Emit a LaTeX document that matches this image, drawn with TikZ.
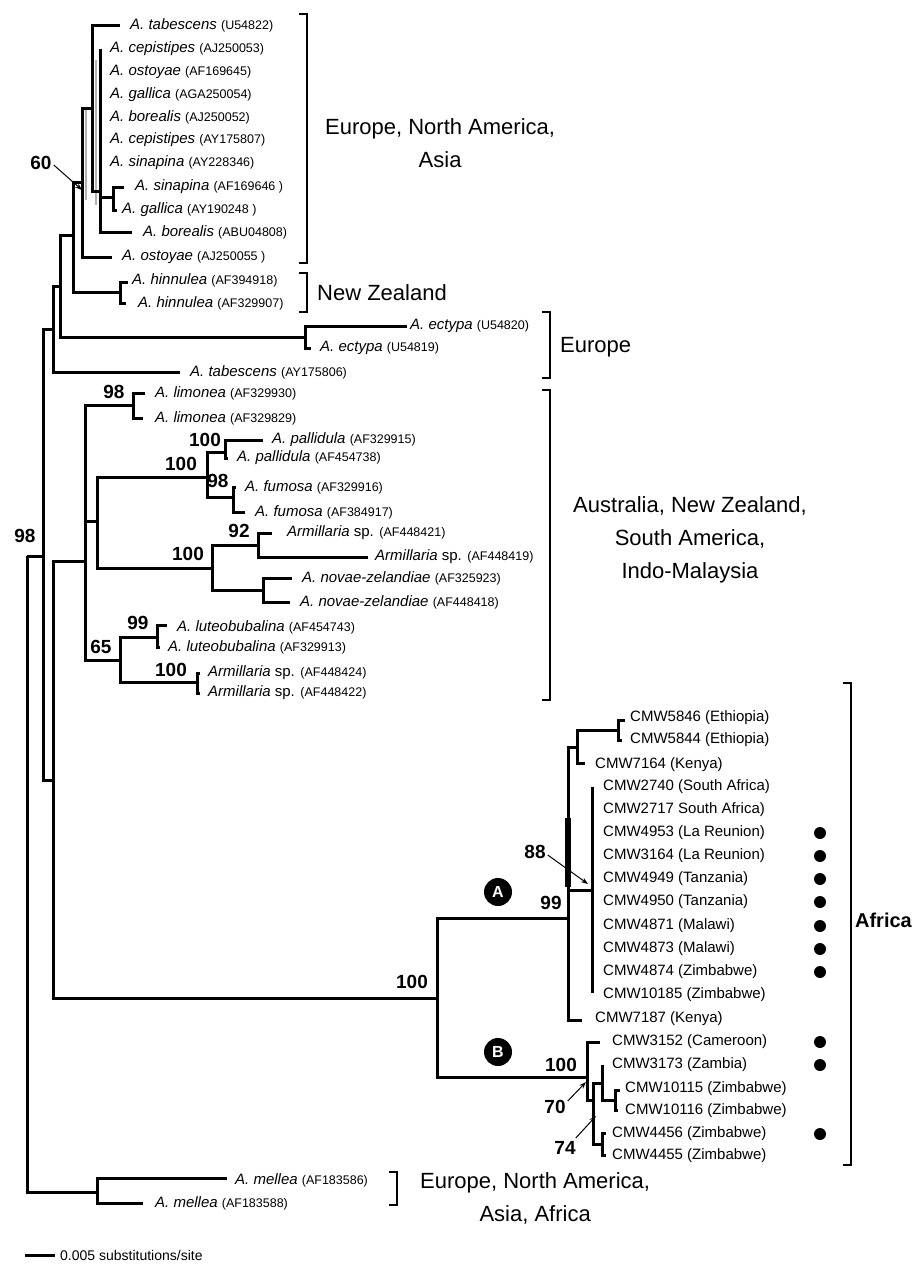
\documentclass[tikz,border=0pt]{standalone}
\usepackage{fontspec}
\setmainfont{Liberation Sans}
\usetikzlibrary{arrows.meta}
\newcommand\acc[1]{{\fontsize{12.5}{13}\selectfont(#1)}}
\begin{document}
\begin{tikzpicture}[x=1pt,y=-1pt,
  br/.style={line width=3pt, line join=miter},
  lab/.style={anchor=west, inner sep=0pt, font=\fontsize{15}{16}\selectfont},
  cmw/.style={anchor=west, inner sep=0pt, font=\fontsize{15}{16}\selectfont},
  bs/.style={inner sep=0pt, font=\fontsize{19}{20}\selectfont\bfseries},
  reg/.style={inner sep=0pt, font=\fontsize{22}{33}\selectfont, align=center},
  brk/.style={line width=2pt},
  dotm/.style={circle, fill=black, minimum size=12pt, inner sep=0pt},
  clade/.style={circle, fill=black, minimum size=28pt, inner sep=0pt, text=white, font=\fontsize{16}{16}\selectfont\bfseries},
  lead/.style={line width=1pt, -{Stealth[length=7pt,width=5pt]}}]
\useasboundingbox (0,0) rectangle (914,1269);
\fill[white] (0,0) rectangle (914,1269);
% ---------- coordinates: internal nodes ----------
\coordinate (root) at (27,556);
\coordinate (n43) at (43,556);
\coordinate (n53a) at (53,329);
\coordinate (n53b) at (53,780);
\coordinate (n60) at (60,286);
\coordinate (n73) at (73,235);
\coordinate (n82) at (82,182);
\coordinate (n92) at (92,108);
\coordinate (n100) at (100,191);
\coordinate (n113) at (113,197);
\coordinate (nhin) at (120,292);
\coordinate (nect) at (305,337);
\coordinate (nmel) at (97,1192);
\coordinate (nau) at (85,561);
\coordinate (nlim) at (133,405);
\coordinate (n97) at (97,521);
\coordinate (n207) at (207,477);
\coordinate (npal) at (225,452);
\coordinate (nfum) at (233,497);
\coordinate (n212) at (212,568);
\coordinate (n258) at (258,545);
\coordinate (nnov) at (263,590);
\coordinate (n65) at (120,660);
\coordinate (nlut) at (157,637);
\coordinate (narm) at (197,682);
\coordinate (naf) at (437,998);
\coordinate (nA) at (568,918);
\coordinate (n577) at (577,747);
\coordinate (n618) at (618,730);
\coordinate (n592) at (592,890);
\coordinate (nB) at (587,1077);
\coordinate (n593) at (593,1100);
\coordinate (n602a) at (602,1083);
\coordinate (n602b) at (602,1144);
\coordinate (n615) at (615,1100);
% ---------- coordinates: leaf ends ----------
\coordinate (e1) at (120,25);
\coordinate (e2) at (100,49);
\coordinate (e8) at (124,187);
\coordinate (e9) at (117,210);
\coordinate (e10) at (132,232);
\coordinate (e11) at (112,257);
\coordinate (e12) at (128,282);
\coordinate (e13) at (126,303);
\coordinate (e14) at (407,326);
\coordinate (e15) at (311,348);
\coordinate (e16) at (180,372);
\coordinate (e17) at (145,393);
\coordinate (e18) at (143,418);
\coordinate (e19) at (263,440);
\coordinate (e20) at (228,458);
\coordinate (e21) at (236,487);
\coordinate (e22) at (245,512);
\coordinate (e23) at (272,533);
\coordinate (e24) at (368,557);
\coordinate (e25) at (292,578);
\coordinate (e26) at (290,602);
\coordinate (e27) at (167,625);
\coordinate (e28) at (160,647);
\coordinate (e29) at (200,673);
\coordinate (e30) at (200,693);
\coordinate (e31) at (227,1178);
\coordinate (e32) at (143,1203);
\coordinate (c5846) at (625,720);
\coordinate (c5844) at (622,740);
\coordinate (c7164) at (585,763);
\coordinate (ctop) at (592,787);
\coordinate (cbot) at (592,993);
\coordinate (c7187) at (582,1020);
\coordinate (c3152) at (600,1042);
\coordinate (c3173) at (602,1065);
\coordinate (c10115) at (620,1090);
\coordinate (c10116) at (618,1110);
\coordinate (c4456) at (606,1133);
\coordinate (c4455) at (606,1155);
% ---------- faint grey lines near node 60 ----------
\draw[gray!60, line width=1.2pt] (86,110) -- (86,200);
\draw[gray!60, line width=1.2pt] (96,60) -- (96,205);
% ---------- branches ----------
\draw[br] (root) |- (n43);
\draw[br] (root) |- (nmel);
\draw[br] (n43) |- (n53a);
\draw[br] (n43) |- (n53b);
\draw[br] (n53a) |- (n60);
\draw[br] (n53a) |- (e16);
\draw[br] (n60) |- (n73);
\draw[br] (n60) |- (nect);
\draw[br] (n73) |- (n82);
\draw[br] (n73) |- (nhin);
\draw[br] (n82) |- (n92);
\draw[br] (n82) |- (e11);
\draw[br] (n92) |- (e1);
\draw[br] (n92) |- (n100);
\draw[br] (n100) |- (e2);
\draw[br] (n100) |- (e10);
\draw[br] (n100) |- (n113);
\draw[br] (n113) |- (e8);
\draw[br] (n113) |- (e9);
\draw[br] (nhin) |- (e12);
\draw[br] (nhin) |- (e13);
\draw[br] (nect) |- (e14);
\draw[br] (nect) |- (e15);
\draw[br] (nmel) |- (e31);
\draw[br] (nmel) |- (e32);
\draw[br] (n53b) |- (nau);
\draw[br] (n53b) |- (naf);
\draw[br] (nau) |- (nlim);
\draw[br] (nau) |- (n97);
\draw[br] (nau) |- (n65);
\draw[br] (nlim) |- (e17);
\draw[br] (nlim) |- (e18);
\draw[br] (n97) |- (n207);
\draw[br] (n97) |- (n212);
\draw[br] (n207) |- (npal);
\draw[br] (n207) |- (nfum);
\draw[br] (npal) |- (e19);
\draw[br] (npal) |- (e20);
\draw[br] (nfum) |- (e21);
\draw[br] (nfum) |- (e22);
\draw[br] (n212) |- (n258);
\draw[br] (n212) |- (nnov);
\draw[br] (n258) |- (e23);
\draw[br] (n258) |- (e24);
\draw[br] (nnov) |- (e25);
\draw[br] (nnov) |- (e26);
\draw[br] (n65) |- (nlut);
\draw[br] (n65) |- (narm);
\draw[br] (nlut) |- (e27);
\draw[br] (nlut) |- (e28);
\draw[br] (narm) |- (e29);
\draw[br] (narm) |- (e30);
\draw[br] (naf) |- (nA);
\draw[br] (naf) |- (nB);
\draw[br] (nA) |- (n577);
\draw[br] (nA) |- (n592);
\draw[br] (nA) |- (c7187);
\draw[line width=5.5pt] (568,818) -- (568,887);
\draw[br] (n577) |- (n618);
\draw[br] (n577) |- (c7164);
\draw[br] (n618) |- (c5846);
\draw[br] (n618) |- (c5844);
\draw[br] (n592) |- (ctop);
\draw[br] (n592) |- (cbot);
\draw[br] (nB) |- (c3152);
\draw[br] (nB) |- (n593);
\draw[br] (n593) |- (n602a);
\draw[br] (n593) |- (n602b);
\draw[br] (n602a) |- (c3173);
\draw[br] (n602a) |- (n615);
\draw[br] (n615) |- (c10115);
\draw[br] (n615) |- (c10116);
\draw[br] (n602b) |- (c4456);
\draw[br] (n602b) |- (c4455);
% ---------- taxon labels ----------
\node[lab] (t1) at (130,25) {\itshape A. tabescens \upshape\acc{U54822}};
\node[lab] (t2) at (110,49) {\itshape A. cepistipes \upshape\acc{AJ250053}};
\node[lab] (t3) at (110,72) {\itshape A. ostoyae \upshape\acc{AF169645}};
\node[lab] (t4) at (110,95) {\itshape A. gallica \upshape\acc{AGA250054}};
\node[lab] (t5) at (110,117) {\itshape A. borealis \upshape\acc{AJ250052}};
\node[lab] (t6) at (110,140) {\itshape A. cepistipes \upshape\acc{AY175807}};
\node[lab] (t7) at (110,163) {\itshape A. sinapina \upshape\acc{AY228346}};
\node[lab] (t8) at (135,187) {\itshape A. sinapina \upshape\acc{AF169646 }};
\node[lab] (t9) at (122,210) {\itshape A. gallica \upshape\acc{AY190248 }};
\node[lab] (t10) at (143,232) {\itshape A. borealis \upshape\acc{ABU04808}};
\node[lab] (t11) at (122,257) {\itshape A. ostoyae \upshape\acc{AJ250055 }};
\node[lab] (t12) at (132,280) {\itshape A. hinnulea \upshape\acc{AF394918}};
\node[lab] (t13) at (138,303) {\itshape A. hinnulea \upshape\acc{AF329907}};
\node[lab] (t14) at (410,326) {\itshape A. ectypa \upshape\acc{U54820}};
\node[lab] (t15) at (320,348) {\itshape A. ectypa \upshape\acc{U54819}};
\node[lab] (t16) at (190,372) {\itshape A. tabescens \upshape\acc{AY175806}};
\node[lab] (t17) at (155,393) {\itshape A. limonea \upshape\acc{AF329930}};
\node[lab] (t18) at (155,418) {\itshape A. limonea \upshape\acc{AF329829}};
\node[lab] (t19) at (272,440) {\itshape A. pallidula \upshape\acc{AF329915}};
\node[lab] (t20) at (237,458) {\itshape A. pallidula \upshape\acc{AF454738}};
\node[lab] (t21) at (245,487) {\itshape A. fumosa \upshape\acc{AF329916}};
\node[lab] (t22) at (255,512) {\itshape A. fumosa \upshape\acc{AF384917}};
\node[lab] (t23) at (287,533) {\itshape Armillaria\upshape\ sp. \acc{AF448421}};
\node[lab] (t24) at (375,557) {\itshape Armillaria\upshape\ sp. \acc{AF448419}};
\node[lab] (t25) at (302,578) {\itshape A. novae-zelandiae \upshape\acc{AF325923}};
\node[lab] (t26) at (300,602) {\itshape A. novae-zelandiae \upshape\acc{AF448418}};
\node[lab] (t27) at (177,627) {\itshape A. luteobubalina \upshape\acc{AF454743}};
\node[lab] (t28) at (168,647) {\itshape A. luteobubalina \upshape\acc{AF329913}};
\node[lab] (t29) at (208,673) {\itshape Armillaria\upshape\ sp. \acc{AF448424}};
\node[lab] (t30) at (208,693) {\itshape Armillaria\upshape\ sp. \acc{AF448422}};
\node[lab] (t31) at (235,1180) {\itshape A. mellea \upshape\acc{AF183586}};
\node[lab] (t32) at (155,1203) {\itshape A. mellea \upshape\acc{AF183588}};
% ---------- CMW labels ----------
\node[cmw] (a1) at (630,718) {CMW5846 (Ethiopia)};
\node[cmw] (a2) at (630,740) {CMW5844 (Ethiopia)};
\node[cmw] (a3) at (595,765) {CMW7164 (Kenya)};
\node[cmw] (a4) at (603,787) {CMW2740 (South Africa)};
\node[cmw] (a5) at (603,810) {CMW2717 South Africa)};
\node[cmw] (a6) at (603,833) {CMW4953 (La Reunion)};
\node[cmw] (a7) at (603,856) {CMW3164 (La Reunion)};
\node[cmw] (a8) at (603,879) {CMW4949 (Tanzania)};
\node[cmw] (a9) at (603,902) {CMW4950 (Tanzania)};
\node[cmw] (a10) at (603,926) {CMW4871 (Malawi)};
\node[cmw] (a11) at (603,949) {CMW4873 (Malawi)};
\node[cmw] (a12) at (603,972) {CMW4874 (Zimbabwe)};
\node[cmw] (a13) at (603,995) {CMW10185 (Zimbabwe)};
\node[cmw] (a14) at (595,1019) {CMW7187 (Kenya)};
\node[cmw] (a15) at (612,1042) {CMW3152 (Cameroon)};
\node[cmw] (a16) at (612,1065) {CMW3173 (Zambia)};
\node[cmw] (a17) at (625,1089) {CMW10115 (Zimbabwe)};
\node[cmw] (a18) at (625,1111) {CMW10116 (Zimbabwe)};
\node[cmw] (a19) at (612,1134) {CMW4456 (Zimbabwe)};
\node[cmw] (a20) at (612,1156) {CMW4455 (Zimbabwe)};
% ---------- dots ----------
\foreach \yy/\nm in {833/d1,856/d2,879/d3,902/d4,926/d5,949/d6,972/d7,1042/d8,1065/d9,1134/d10}
  \node[dotm] (\nm) at (820,\yy) {};
% ---------- clade markers ----------
\node[clade] (cA) at (498,892) {A};
\node[clade] (cB) at (498,1052) {B};
% ---------- bootstrap values ----------
\node[bs] (b60) at (41,163) {60};
\node[bs] (broot) at (25,536) {98};
\node[bs] (blim) at (114,392) {98};
\node[bs] (bpal) at (205,440) {100};
\node[bs] (bpf) at (181,464) {100};
\node[bs] (bfum) at (218,481) {98};
\node[bs] (b92) at (239,531) {92};
\node[bs] (ban) at (188,554) {100};
\node[bs] (blut) at (138,623) {99};
\node[bs] (b65) at (101,647) {65};
\node[bs] (barm) at (171,670) {100};
\node[bs] (baf) at (412,982) {100};
\node[bs] (bA) at (551,903) {99};
\node[bs] (b88) at (535,852) {88};
\node[bs] (bB) at (561,1065) {100};
\node[bs] (b70) at (555,1107) {70};
\node[bs] (b74) at (565,1148) {74};
\coordinate (p60) at (82,190);
\coordinate (p88) at (588,884);
\coordinate (p70) at (586,1082);
\coordinate (p74) at (596,1116);
\draw[lead] (b60.east) ++(2,2) -- (p60);
\draw[lead] (b88.east) ++(2,3) -- (p88);
\draw[lead] (b70.east) ++(2,-6) -- (p70);
\draw[lead] (b74.east) ++(0,-10) -- (p74);
% ---------- brackets ----------
\draw[brk] (299,14) -- (307,14) -- (307,263) -- (299,263);
\draw[brk] (299,273) -- (307,273) -- (307,312) -- (299,312);
\draw[brk] (542,312) -- (550,312) -- (550,378) -- (542,378);
\draw[brk] (542,390) -- (550,390) -- (550,700) -- (542,700);
\draw[brk] (843,683) -- (851,683) -- (851,1165) -- (843,1165);
\draw[brk] (389,1172) -- (397,1172) -- (397,1205) -- (389,1205);
% ---------- region labels ----------
\node[reg, anchor=north west] (r1) at (325,118) {Europe, North America,\\Asia};
\node[reg, anchor=west] (r2) at (317,293) {New Zealand};
\node[reg, anchor=west] (r3) at (560,347) {Europe};
\node[reg] (r4) at (690,540) {Australia, New Zealand,\\South America,\\Indo-Malaysia};
\node[reg, anchor=east, font=\fontsize{20}{24}\selectfont\bfseries] (r5) at (912,920) {Africa};
\node[reg, anchor=north west] (r6) at (420,1172) {Europe, North America,\\Asia, Africa};
% ---------- scale bar ----------
\coordinate (sb1) at (25,1255);
\coordinate (sb2) at (55,1255);
\draw[br] (sb1) -- (sb2);
\node[lab, font=\fontsize{14}{15}\selectfont] (sbl) at (60,1255) {0.005 substitutions/site};
\end{tikzpicture}
\end{document}
